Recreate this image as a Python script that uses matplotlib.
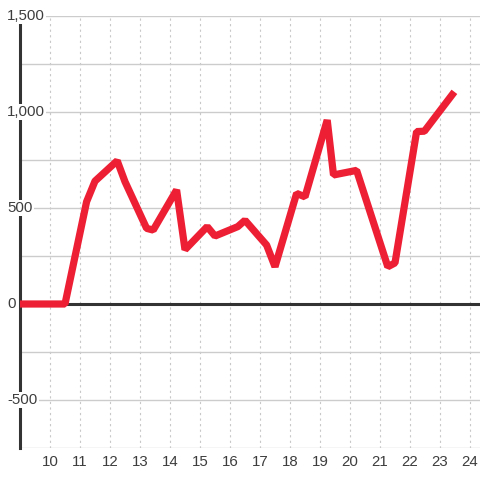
import matplotlib
matplotlib.use("Agg")
import matplotlib.pyplot as plt
import matplotlib.transforms as mtransforms

# ---- data ----
x_hours = [9.0, 10.5, 11.22, 11.5, 12.24, 12.5, 13.22, 13.44, 14.22, 14.5,
           15.24, 15.5, 16.26, 16.5, 17.22, 17.5, 18.22, 18.5, 19.24, 19.45,
           20.22, 21.26, 21.5, 22.22, 22.48, 23.48]
values = [0, 0, 533, 640, 746, 637, 394, 385, 594, 283,
          403, 354, 403, 436, 307, 194, 576, 558, 958, 672,
          696, 194, 214, 898, 900, 1105]
x_ticks = list(range(10, 25))
x_tick_labels = [str(t) for t in x_ticks]
y_label_values = [1500, 1000, 500, 0, -500]
y_label_texts = ["1,500", "1,000", "500", "0", "-500"]
y_grid_values = [-750, -500, -250, 0, 250, 500, 750, 1000, 1250, 1500]

W, H = 480, 480
fig = plt.figure(figsize=(W / 100, H / 100), dpi=100, facecolor="white")
ax = fig.add_axes([20 / W, 32 / H, 460 / W, 432 / H])
ax.set_facecolor("white")

ax.set_xlim(9.0, 9.0 + 460 / 30)
ax.set_ylim(-750, 1500)

# gridlines
ax.set_yticks(y_grid_values)
ax.set_xticks(x_ticks)
ax.set_xticklabels(x_tick_labels, fontfamily="Liberation Sans", fontsize=10.8, color="#3d3d3d")
ax.tick_params(axis="both", length=0)
ax.tick_params(axis="y", labelleft=False)
ax.tick_params(axis="x", pad=5)
ax.grid(axis="y", color="#cccccc", linewidth=1, linestyle="-", zorder=0)
ax.grid(axis="x", color="#c8c8c8", linewidth=0.8, linestyle=(0, (2, 3)), zorder=0)
ax.set_axisbelow(True)

for s in ["top", "right", "bottom"]:
    ax.spines[s].set_visible(False)
ax.spines["left"].set_color("#333333")
ax.spines["left"].set_linewidth(2.2)
ax.spines["left"].set_bounds(-750, 1458)

# zero line
ax.axhline(0, color="#333333", linewidth=2.2, zorder=2)

# series
ax.plot(x_hours, values, color="#ed1f35", linewidth=5.2,
        solid_joinstyle="bevel", solid_capstyle="butt", zorder=4, clip_on=False)

# y labels with background boxes
trans = mtransforms.blended_transform_factory(ax.transAxes, ax.transData)
for v, t in zip(y_label_values, y_label_texts):
    ax.text(-13 / 460, v, t, transform=trans, ha="left", va="center",
            fontfamily="Liberation Sans", fontsize=10.8, color="#3d3d3d",
            bbox=dict(facecolor="white", edgecolor="none", pad=1.0),
            zorder=5, clip_on=False)

fig.savefig("out.png", dpi=100, facecolor="white")
